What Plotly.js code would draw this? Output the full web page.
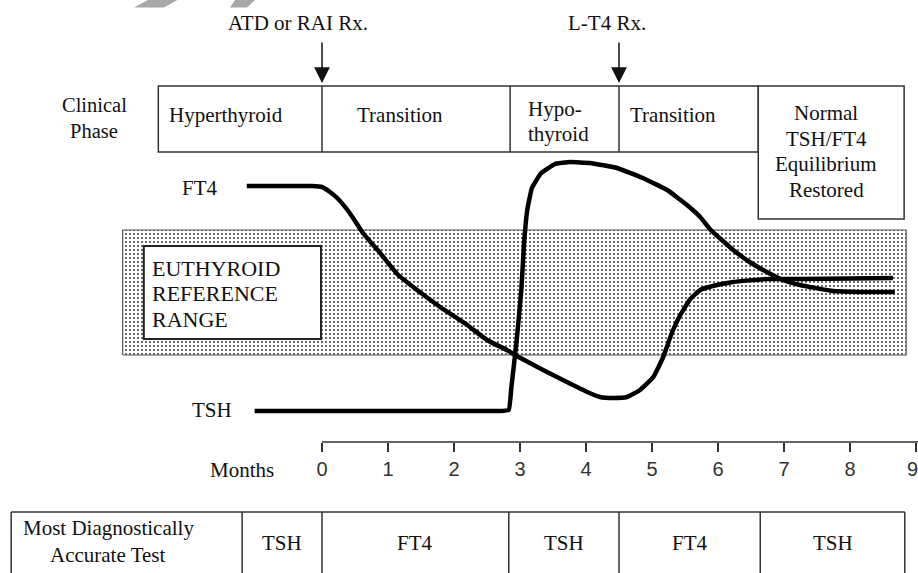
<!DOCTYPE html>
<html>
<head>
<meta charset="utf-8">
<script src="https://cdn.plot.ly/plotly-3.0.1.min.js"></script>
<style>html,body{margin:0;padding:0;background:#fff;}#chart{width:918px;height:573px;}</style>
</head>
<body>
<div id="chart"></div>
<script>
// ---- data (months on x; relative hormone level on y) ----
var ft4Months = [-1.14, -0.6, -0.15, 0, 0.12, 0.23, 0.42, 0.62, 0.88, 1.14, 1.44, 1.79, 2.2, 2.5, 2.8, 2.95, 3.35, 3.71, 4.02, 4.21, 4.42, 4.62, 4.82, 5.02, 5.17, 5.3, 5.42, 5.58, 5.73, 5.92, 6.23, 6.74, 7.24, 8.0, 8.65];
var ft4Level  = [25.6, 25.6, 25.6, 25.5, 25.0, 24.4, 22.9, 20.9, 18.9, 16.8, 15.2, 13.5, 11.7, 10.2, 9.2, 8.6, 7.2, 6.0, 5.0, 4.5, 4.4, 4.5, 5.2, 6.5, 8.5, 10.9, 12.6, 14.3, 15.2, 15.6, 16.0, 16.3, 16.3, 16.35, 16.4];
var tshMonths = [-1.02, 0.5, 2.0, 2.7, 2.83, 2.87, 2.95, 3.02, 3.06, 3.11, 3.18, 3.32, 3.53, 3.76, 4.06, 4.47, 4.86, 5.23, 5.53, 5.73, 5.89, 6.23, 6.48, 6.74, 6.98, 7.24, 7.74, 8.15, 8.68];
var tshLevel  = [3.1, 3.1, 3.1, 3.1, 3.2, 5.5, 10.2, 15.2, 19.7, 23.2, 25.4, 26.9, 27.8, 28.0, 27.9, 27.4, 26.4, 25.2, 23.7, 22.5, 21.2, 19.2, 18.0, 17.0, 16.2, 15.7, 15.1, 15.0, 15.0];
var euthyroidRange = [8.7, 21.2];       // low, high
var rangeMonths = [-3.02, 8.85];
var monthTicks = [0, 1, 2, 3, 4, 5, 6, 7, 8, 9];
var monthTickLabels = ["0", "1", "2", "3", "4", "5", "6", "7", "8", "9"];
var phaseNames = ["Hyperthyroid", "Transition", "Hypo-|thyroid", "Transition", "Normal|TSH/FT4|Equilibrium|Restored"];
var phaseBounds = [-2.48, 0, 2.85, 4.5, 6.61, 8.82];
var treatments = ["ATD or RAI Rx.", "L-T4 Rx."];
var treatmentMonths = [0, 4.5];
var testNames = ["TSH", "FT4", "TSH", "FT4", "TSH"];
var testBounds = [-1.21, 0, 2.83, 4.5, 6.64, 8.83];

// ---- layout helpers ----
var FONT = "Liberation Serif, Times New Roman, serif";
var TICKFONT = {family: "Liberation Sans, Arial, sans-serif", size: 20, color: "#333"};
var TXT = "#111";
var LINE = "#333";
var shapes = [];
var ann = [];
function line(x0, y0, x1, y1, w, c) {
  shapes.push({type: "line", xref: "x", yref: "y", x0: x0, y0: y0, x1: x1, y1: y1,
    line: {color: c || LINE, width: w || 1.5}});
}
function rect(x0, y0, x1, y1, w, c, fill) {
  shapes.push({type: "rect", xref: "x", yref: "y", x0: x0, y0: y0, x1: x1, y1: y1,
    line: {color: c || LINE, width: w || 1.5}, fillcolor: fill || "rgba(0,0,0,0)"});
}
// multi-line label: lines separated by "|", centre y given, spacing in y units
function label(text, x, y, xanchor, size, spacing) {
  var parts = text.split("|");
  var sp = spacing || 2.6;
  var top = y + sp * (parts.length - 1) / 2;
  for (var p = 0; p < parts.length; p++) {
    ann.push({text: parts[p], x: x, y: top - p * sp, xref: "x", yref: "y", showarrow: false,
      xanchor: xanchor || "center", yanchor: "middle",
      font: {family: FONT, size: size || 21, color: TXT}});
  }
}

// clinical phase box
var boxTop = 35.6, boxBot = 29.0, normalBot = 22.3;
rect(phaseBounds[0], boxBot, phaseBounds[4], boxTop);
rect(phaseBounds[4], normalBot, phaseBounds[5], boxTop);
for (var i = 1; i < 4; i++) line(phaseBounds[i], boxBot, phaseBounds[i], boxTop);
label("Clinical|Phase", -3.45, 32.4, "center", 20.5, 2.6);
label(phaseNames[0], phaseBounds[0] + 0.13, 32.7, "left");
label(phaseNames[1], 1.18, 32.7, "center");
label(phaseNames[2], phaseBounds[2] + 0.24, 32.1, "left", 21, 2.5);
label(phaseNames[3], phaseBounds[3] + 0.13, 32.7, "left");
label(phaseNames[4], 7.64, 29.05, "center", 21, 2.55);

// treatment arrows
var treatLabelX = [-0.36, 4.32];
for (var t = 0; t < treatments.length; t++) {
  ann.push({text: "", x: treatmentMonths[t], y: boxTop + 0.3, xref: "x", yref: "y",
    ax: 0, ay: -42, axref: "pixel", ayref: "pixel", showarrow: true,
    arrowhead: 2, arrowsize: 2.1, arrowwidth: 1.5, arrowcolor: "#111", standoff: 0});
  label(treatments[t], treatLabelX[t], 41.9, "center", 21);
}

// euthyroid inner label box
rect(-2.70, 10.3, -0.015, 19.6, 2, "#222", "white");
label("EUTHYROID|REFERENCE|RANGE", -2.61, 14.85, "left", 22, 2.55);

// curve labels
label("FT4", -1.85, 25.4, "center", 21);
label("TSH", -1.67, 3.2, "center", 21);
label("Months", -1.21, -2.8, "center", 21);

// month axis line
shapes.push({type: "line", xref: "x", yref: "y", x0: 0, y0: 0, x1: 9.1, y1: 0, line: {color: LINE, width: 1.5}});

// the last tick label sits against the right edge: draw it right-aligned so it stays inside
var tickText = monthTickLabels.slice();
var lastIdx = tickText.length - 1;
ann.push({text: monthTickLabels[lastIdx], x: monthTicks[lastIdx], y: -2.7, xref: "x", yref: "y",
  showarrow: false, xanchor: "right", yanchor: "middle", xshift: 4, font: TICKFONT});
tickText[lastIdx] = "";

// bottom test table
var tableTop = -7.0, tableBot = -13.2;
line(-4.71, tableTop, testBounds[5], tableTop);
line(-4.71, tableTop, -4.71, tableBot);
for (var k = 0; k < testBounds.length; k++) line(testBounds[k], tableTop, testBounds[k], tableBot);
label("Most Diagnostically|Accurate Test", -3.24, -9.9, "center", 21, 2.7);
for (var j = 0; j < testNames.length; j++) {
  label(testNames[j], (testBounds[j] + testBounds[j + 1]) / 2, -10.1, "center", 21);
}

// faint watermark stripes at the top edge
shapes.push({type: "path", xref: "paper", yref: "paper",
  path: "M 0.1612 1 L 0.1932 1 L 0.1786 0.987 L 0.1459 0.987 Z", fillcolor: "#a8a8a8", line: {width: 0}});
shapes.push({type: "path", xref: "paper", yref: "paper",
  path: "M 0.2560 1 L 0.2778 1 L 0.2690 0.987 L 0.2505 0.987 Z", fillcolor: "#a8a8a8", line: {width: 0}});

var traces = [
  {type: "scatter", mode: "lines", hoverinfo: "skip", showlegend: false,
   x: [rangeMonths[0], rangeMonths[1], rangeMonths[1], rangeMonths[0], rangeMonths[0]],
   y: [euthyroidRange[0], euthyroidRange[0], euthyroidRange[1], euthyroidRange[1], euthyroidRange[0]],
   fill: "toself", fillcolor: "white",
   fillpattern: {shape: ".", size: 4, solidity: 0.18, fgcolor: "#333", bgcolor: "white", fillmode: "replace"},
   line: {color: "#555", width: 1.2}},
  {type: "scatter", mode: "lines", name: "FT4", showlegend: false, x: ft4Months, y: ft4Level,
   line: {color: "#000", width: 4.5, shape: "spline", smoothing: 0.35}},
  {type: "scatter", mode: "lines", name: "TSH", showlegend: false, x: tshMonths, y: tshLevel,
   line: {color: "#000", width: 4.5, shape: "spline", smoothing: 0.3}}
];

var layout = {
  width: 918, height: 573,
  margin: {l: 0, r: 0, t: 0, b: 0, pad: 0},
  paper_bgcolor: "white", plot_bgcolor: "rgba(0,0,0,0)",
  showlegend: false,
  xaxis: {range: [-4.8788, 9.0303], showgrid: false, zeroline: false, showline: false,
    anchor: "free", position: 0.2286, tickmode: "array", tickvals: monthTicks, ticktext: tickText,
    ticks: "outside", ticklen: 9, tickwidth: 1.3, tickcolor: "#333",
    tickfont: TICKFONT, fixedrange: true},
  yaxis: {range: [-13.1, 44.2], visible: false, fixedrange: true},
  shapes: shapes,
  annotations: ann
};
Plotly.newPlot("chart", traces, layout, {staticPlot: true, displayModeBar: false});
</script>
</body>
</html>
